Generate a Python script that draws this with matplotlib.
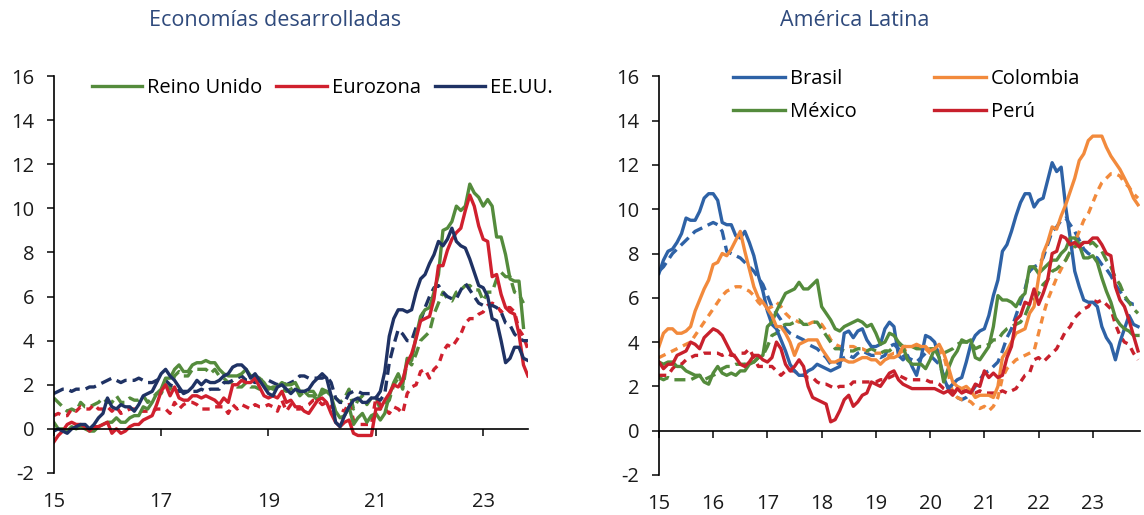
import matplotlib.pyplot as plt
import numpy as np

plt.rcParams['font.family'] = ['Open Sans', 'DejaVu Sans']
plt.rcParams['axes.unicode_minus'] = False

# monthly y/y inflation, Jan 2015 onwards (%)
uk = [0.3, 0.0, 0.0, -0.1, 0.1, 0.0, 0.1, 0.0, -0.1, -0.1, 0.1, 0.2,
      0.3, 0.3, 0.5, 0.3, 0.3, 0.5, 0.6, 0.6, 1.0, 0.9, 1.2, 1.6,
      1.8, 2.3, 2.3, 2.7, 2.9, 2.6, 2.6, 2.9, 3.0, 3.0, 3.1, 3.0,
      3.0, 2.7, 2.5, 2.4, 2.4, 2.4, 2.5, 2.7, 2.4, 2.4, 2.3, 2.1,
      1.8, 1.9, 1.9, 2.1, 2.0, 2.0, 2.1, 1.7, 1.7, 1.5, 1.5, 1.3,
      1.8, 1.7, 1.5, 0.8, 0.5, 0.6, 1.0, 0.2, 0.5, 0.7, 0.3, 0.6,
      0.7, 0.4, 0.7, 1.5, 2.1, 2.5, 2.0, 3.2, 3.1, 4.2, 5.1, 5.4,
      5.5, 6.2, 7.0, 9.0, 9.1, 9.4, 10.1, 9.9, 10.1, 11.1, 10.7, 10.5,
      10.1, 10.4, 10.1, 8.7, 8.7, 7.9, 6.8, 6.7, 6.7, 4.6]
uk_core = [1.4, 1.2, 1.0, 0.8, 0.9, 0.8, 1.2, 1.0, 1.0, 1.1, 1.2, 1.4,
           1.2, 1.2, 1.5, 1.2, 1.2, 1.4, 1.3, 1.3, 1.5, 1.2, 1.4, 1.6,
           1.6, 2.0, 1.8, 2.4, 2.6, 2.4, 2.4, 2.7, 2.7, 2.7, 2.7, 2.5,
           2.7, 2.4, 2.3, 2.1, 2.1, 1.9, 1.9, 2.1, 1.9, 1.9, 1.8, 1.9,
           1.9, 1.8, 1.8, 1.8, 1.7, 1.8, 1.9, 1.5, 1.7, 1.7, 1.7, 1.4,
           1.6, 1.7, 1.6, 1.4, 1.2, 1.4, 1.8, 0.9, 1.3, 1.5, 1.1, 1.4,
           1.4, 0.9, 1.1, 1.3, 2.0, 2.3, 1.8, 3.1, 2.9, 3.4, 4.0, 4.2,
           4.4, 5.2, 5.7, 6.2, 5.9, 5.8, 6.2, 6.3, 6.5, 6.5, 6.3, 6.3,
           5.8, 6.2, 6.2, 6.8, 7.1, 6.9, 6.9, 6.2, 6.1, 5.7]
ez = [-0.6, -0.3, -0.1, 0.2, 0.3, 0.2, 0.2, 0.1, -0.1, 0.1, 0.1, 0.2,
      0.3, -0.2, 0.0, -0.2, -0.1, 0.1, 0.2, 0.2, 0.4, 0.5, 0.6, 1.1,
      1.7, 2.0, 1.5, 1.9, 1.4, 1.3, 1.3, 1.5, 1.5, 1.4, 1.5, 1.4,
      1.3, 1.1, 1.4, 1.2, 2.0, 2.0, 2.2, 2.1, 2.1, 2.3, 1.9, 1.5,
      1.4, 1.5, 1.4, 1.7, 1.2, 1.3, 1.0, 1.0, 0.8, 0.7, 1.0, 1.3,
      1.4, 1.2, 0.7, 0.3, 0.1, 0.3, 0.4, -0.2, -0.3, -0.3, -0.3, -0.3,
      0.9, 0.9, 1.3, 1.6, 2.0, 1.9, 2.2, 3.0, 3.4, 4.1, 4.9, 5.0,
      5.1, 5.9, 7.4, 7.4, 8.1, 8.6, 8.9, 9.1, 9.9, 10.6, 10.1, 9.2,
      8.6, 8.5, 6.9, 7.0, 6.1, 5.5, 5.3, 5.2, 4.3, 2.9, 2.4]
ez_core = [0.6, 0.7, 0.6, 0.6, 0.9, 0.8, 1.0, 0.9, 0.9, 1.1, 0.9, 0.9,
           1.0, 0.8, 1.0, 0.7, 0.8, 0.9, 0.9, 0.8, 0.8, 0.8, 0.8, 0.9,
           0.9, 0.9, 0.7, 1.2, 0.9, 1.1, 1.2, 1.2, 1.1, 0.9, 0.9, 0.9,
           1.0, 1.0, 1.0, 0.7, 1.1, 0.9, 1.1, 1.0, 0.9, 1.1, 1.0, 1.0,
           1.1, 1.0, 0.8, 1.3, 0.8, 1.1, 0.9, 0.9, 1.0, 1.1, 1.3, 1.3,
           1.1, 1.2, 1.0, 0.9, 0.9, 0.8, 1.2, 0.4, 0.2, 0.2, 0.2, 0.2,
           1.4, 1.1, 0.9, 0.7, 1.0, 0.9, 0.7, 1.6, 1.9, 2.0, 2.6, 2.7,
           2.3, 2.7, 2.9, 3.5, 3.8, 3.7, 4.0, 4.3, 4.8, 5.0, 5.0, 5.2,
           5.3, 5.6, 5.7, 5.6, 5.3, 5.5, 5.5, 5.3, 4.5, 4.2, 3.6]
us = [-0.1, 0.0, -0.1, -0.2, 0.0, 0.1, 0.2, 0.2, 0.0, 0.2, 0.5, 0.7,
      1.4, 1.0, 0.9, 1.1, 1.0, 1.0, 0.8, 1.1, 1.5, 1.6, 1.7, 2.1,
      2.5, 2.7, 2.4, 2.2, 1.9, 1.6, 1.7, 1.9, 2.2, 2.0, 2.2, 2.1,
      2.1, 2.2, 2.4, 2.5, 2.8, 2.9, 2.9, 2.7, 2.3, 2.5, 2.2, 1.9,
      1.6, 1.5, 1.9, 2.0, 1.8, 1.6, 1.8, 1.7, 1.7, 1.8, 2.1, 2.3,
      2.5, 2.3, 1.5, 0.3, 0.1, 0.6, 1.0, 1.3, 1.4, 1.2, 1.2, 1.4,
      1.4, 1.7, 2.6, 4.2, 5.0, 5.4, 5.4, 5.3, 5.4, 6.2, 6.8, 7.0,
      7.5, 7.9, 8.5, 8.3, 8.6, 9.1, 8.5, 8.3, 8.2, 7.7, 7.1, 6.5,
      6.4, 6.0, 5.0, 4.9, 4.0, 3.0, 3.2, 3.7, 3.7, 3.2, 3.1]
us_core = [1.6, 1.7, 1.8, 1.8, 1.7, 1.8, 1.8, 1.8, 1.9, 1.9, 2.0, 2.1,
           2.2, 2.3, 2.2, 2.1, 2.2, 2.2, 2.2, 2.3, 2.2, 2.1, 2.1, 2.2,
           2.3, 2.2, 2.0, 1.9, 1.7, 1.7, 1.7, 1.7, 1.7, 1.8, 1.7, 1.8,
           1.8, 1.8, 2.1, 2.1, 2.2, 2.3, 2.4, 2.2, 2.2, 2.1, 2.2, 2.2,
           2.2, 2.1, 2.0, 2.1, 2.0, 2.1, 2.2, 2.4, 2.4, 2.3, 2.3, 2.3,
           2.3, 2.4, 2.1, 1.4, 1.2, 1.2, 1.6, 1.7, 1.7, 1.6, 1.6, 1.6,
           1.4, 1.3, 1.6, 3.0, 3.8, 4.5, 4.3, 4.0, 4.0, 4.6, 4.9, 5.5,
           6.0, 6.4, 6.5, 6.2, 6.0, 5.9, 5.9, 6.3, 6.6, 6.3, 6.0, 5.7,
           5.6, 5.5, 5.6, 5.5, 5.3, 4.8, 4.7, 4.3, 4.1, 4.0, 4.0]

brasil = [7.1, 7.7, 8.1, 8.2, 8.5, 8.9, 9.6, 9.5, 9.5, 9.9, 10.5, 10.7,
          10.7, 10.4, 9.4, 9.3, 9.3, 8.8, 8.7, 9.0, 8.5, 7.9, 7.0, 6.3,
          5.4, 4.8, 4.6, 4.1, 3.6, 3.0, 2.7, 2.5, 2.5, 2.7, 2.8, 3.0,
          2.9, 2.8, 2.7, 2.8, 2.9, 4.4, 4.5, 4.2, 4.5, 4.6, 4.1, 3.8,
          3.8, 3.9, 4.6, 4.9, 4.7, 3.4, 3.2, 3.4, 2.9, 2.5, 3.3, 4.3,
          4.2, 4.0, 3.3, 2.4, 1.9, 2.1, 2.3, 2.4, 3.1, 3.9, 4.3, 4.5,
          4.6, 5.2, 6.1, 6.8, 8.1, 8.4, 9.0, 9.7, 10.3, 10.7, 10.7, 10.1,
          10.4, 10.5, 11.3, 12.1, 11.7, 11.9, 10.1, 8.7, 7.2, 6.5, 5.9, 5.8,
          5.8, 5.6, 4.7, 4.2, 3.9, 3.2, 4.0, 4.6, 5.2, 4.8, 4.7]
brasil_core = [7.2, 7.4, 7.7, 8.0, 8.2, 8.4, 8.6, 8.8, 9.0, 9.1, 9.2, 9.3,
               9.4, 9.3, 9.0, 8.1, 8.0, 7.9, 7.8, 7.6, 7.4, 7.2, 6.9, 6.6,
               6.1, 5.6, 5.3, 5.0, 4.6, 4.4, 4.3, 4.2, 4.1, 3.9, 3.8, 3.7,
               3.5, 3.3, 3.0, 3.0, 3.1, 3.3, 3.4, 3.3, 3.5, 3.6, 3.5, 3.4,
               3.4, 3.3, 3.4, 3.8, 3.9, 3.7, 3.4, 3.3, 3.2, 3.1, 3.3, 3.5,
               3.4, 3.2, 3.0, 2.5, 1.9, 1.6, 1.5, 1.4, 1.5, 1.7, 2.0, 2.3,
               2.6, 2.7, 2.9, 3.1, 3.6, 4.2, 4.6, 5.2, 5.8, 6.4, 7.2, 7.4,
               7.5, 7.8, 8.4, 9.0, 9.2, 9.5, 9.6, 9.3, 9.0, 8.6, 8.2, 8.0,
               7.9, 7.8, 7.5, 7.3, 7.0, 6.6, 6.3, 6.0, 5.8, 5.7, 5.7]
colombia = [3.8, 4.4, 4.6, 4.6, 4.4, 4.4, 4.5, 4.7, 5.4, 5.9, 6.4, 6.8,
            7.5, 7.6, 8.0, 7.9, 8.2, 8.6, 9.0, 8.1, 7.3, 6.5, 6.0, 5.8,
            5.5, 5.2, 4.7, 4.7, 4.4, 4.0, 3.4, 3.9, 4.0, 4.1, 4.1, 4.1,
            3.7, 3.4, 3.1, 3.1, 3.2, 3.2, 3.1, 3.1, 3.2, 3.3, 3.3, 3.2,
            3.2, 3.0, 3.2, 3.3, 3.3, 3.4, 3.8, 3.8, 3.8, 3.9, 3.8, 3.8,
            3.6, 3.7, 3.9, 3.5, 2.9, 2.2, 2.0, 1.9, 2.0, 1.8, 1.5, 1.6,
            1.6, 1.6, 1.5, 2.0, 3.3, 3.6, 4.0, 4.4, 4.5, 4.6, 5.3, 5.6,
            6.9, 8.0, 8.5, 9.2, 9.1, 9.7, 10.2, 10.8, 11.4, 12.2, 12.5, 13.1,
            13.3, 13.3, 13.3, 12.8, 12.4, 12.1, 11.8, 11.4, 11.0, 10.5, 10.2]
colombia_core = [3.3, 3.4, 3.5, 3.6, 3.7, 3.8, 3.9, 4.0, 4.3, 4.6, 4.9, 5.2,
                 5.5, 5.8, 6.1, 6.3, 6.4, 6.5, 6.5, 6.4, 6.3, 6.1, 5.8, 5.6,
                 5.5, 5.6, 5.8, 5.6, 5.3, 5.1, 5.0, 4.9, 4.9, 4.8, 4.9, 4.9,
                 4.8, 4.5, 4.1, 3.9, 3.8, 3.8, 3.8, 3.8, 3.7, 3.7, 3.6, 3.5,
                 3.5, 3.5, 3.4, 3.4, 3.5, 3.5, 3.6, 3.7, 3.8, 3.8, 3.8, 3.7,
                 3.5, 3.5, 3.6, 3.4, 2.6, 1.7, 1.5, 1.4, 1.4, 1.3, 1.1, 1.0,
                 1.1, 0.9, 1.1, 1.5, 2.4, 2.8, 3.0, 3.2, 3.3, 3.4, 3.5, 3.6,
                 4.4, 5.2, 5.9, 6.4, 6.9, 7.3, 7.7, 8.1, 8.5, 9.0, 9.5, 9.8,
                 10.3, 10.8, 11.2, 11.4, 11.6, 11.6, 11.5, 11.2, 11.0, 10.7, 10.5]
mexico = [3.1, 3.0, 3.1, 3.1, 2.9, 2.9, 2.7, 2.6, 2.5, 2.5, 2.2, 2.1,
          2.6, 2.9, 2.6, 2.5, 2.6, 2.5, 2.7, 2.7, 3.0, 3.1, 3.3, 3.4,
          4.7, 4.9, 5.4, 5.8, 6.2, 6.3, 6.4, 6.7, 6.4, 6.4, 6.6, 6.8,
          5.6, 5.3, 5.0, 4.6, 4.5, 4.7, 4.8, 4.9, 5.0, 4.9, 4.7, 4.8,
          4.4, 3.9, 4.0, 4.4, 4.3, 4.0, 3.8, 3.2, 3.0, 3.0, 3.0, 2.8,
          3.2, 3.7, 3.3, 2.2, 2.8, 3.3, 3.6, 4.1, 4.0, 4.1, 3.3, 3.2,
          3.5, 3.8, 4.7, 6.1, 5.9, 5.9, 5.8, 5.6, 6.0, 6.2, 7.4, 7.4,
          7.1, 7.3, 7.5, 7.7, 7.7, 8.0, 8.2, 8.7, 8.7, 8.4, 7.8, 7.8,
          7.9, 7.6, 6.9, 6.3, 5.8, 5.1, 4.8, 4.6, 4.5, 4.3, 4.3]
mexico_core = [2.4, 2.3, 2.4, 2.3, 2.3, 2.3, 2.3, 2.3, 2.4, 2.5, 2.3, 2.4,
               2.5, 2.6, 2.8, 2.9, 2.9, 3.0, 3.0, 3.0, 3.1, 3.1, 3.3, 3.4,
               3.8, 4.3, 4.4, 4.7, 4.8, 4.8, 4.9, 5.0, 4.8, 4.8, 4.9, 4.9,
               4.6, 4.3, 4.0, 3.7, 3.7, 3.6, 3.6, 3.6, 3.7, 3.7, 3.6, 3.7,
               3.6, 3.5, 3.6, 3.6, 3.8, 3.9, 3.8, 3.8, 3.8, 3.7, 3.7, 3.6,
               3.7, 3.7, 3.6, 3.5, 3.6, 3.7, 3.9, 4.0, 4.0, 4.0, 3.7, 3.8,
               3.8, 3.9, 4.1, 4.1, 4.4, 4.6, 4.7, 4.8, 4.9, 5.2, 5.7, 5.9,
               6.2, 6.6, 6.8, 7.2, 7.3, 7.5, 7.7, 8.1, 8.3, 8.4, 8.5, 8.4,
               8.5, 8.3, 8.1, 7.7, 7.4, 6.9, 6.6, 6.1, 5.8, 5.5, 5.3]
peru = [3.1, 2.8, 3.0, 3.0, 3.4, 3.5, 3.6, 4.0, 3.9, 3.7, 4.2, 4.4,
        4.6, 4.5, 4.3, 3.9, 3.5, 3.3, 3.0, 2.9, 3.1, 3.4, 3.4, 3.2,
        3.1, 3.3, 4.0, 3.7, 3.0, 2.7, 2.9, 3.2, 2.9, 2.0, 1.5, 1.4,
        1.3, 1.2, 0.4, 0.5, 0.9, 1.4, 1.6, 1.1, 1.3, 1.6, 1.7, 2.2,
        2.1, 2.0, 2.3, 2.6, 2.7, 2.3, 2.1, 2.0, 1.9, 1.9, 1.9, 1.9,
        1.9, 1.9, 1.8, 1.7, 1.8, 1.6, 1.9, 1.7, 1.8, 1.7, 2.1, 2.0,
        2.7, 2.4, 2.6, 2.4, 2.5, 3.3, 3.8, 5.0, 5.2, 5.8, 5.7, 6.4,
        5.7, 6.2, 6.8, 8.0, 8.1, 8.8, 8.7, 8.4, 8.5, 8.3, 8.5, 8.5,
        8.7, 8.7, 8.4, 8.0, 7.9, 6.5, 5.9, 5.6, 5.0, 4.3, 3.6]
peru_core = [2.5, 2.5, 2.5, 2.8, 3.0, 3.0, 3.2, 3.3, 3.4, 3.4, 3.5, 3.5,
             3.5, 3.5, 3.4, 3.5, 3.4, 3.4, 3.5, 3.5, 3.7, 3.3, 2.9, 2.9,
             2.9, 2.9, 2.7, 2.5, 2.7, 2.7, 2.7, 2.5, 2.5, 2.4, 2.4, 2.2,
             2.1, 2.1, 2.0, 1.9, 2.0, 2.0, 2.0, 2.2, 2.2, 2.2, 2.2, 2.2,
             2.2, 2.3, 2.3, 2.4, 2.5, 2.5, 2.4, 2.3, 2.3, 2.3, 2.3, 2.3,
             2.2, 2.2, 2.1, 1.9, 1.8, 1.8, 1.7, 1.8, 1.8, 1.7, 1.7, 1.8,
             1.7, 1.7, 1.7, 1.7, 1.8, 1.7, 1.8, 1.9, 2.2, 2.5, 2.6, 3.2,
             3.3, 3.1, 3.3, 3.5, 3.7, 4.1, 4.5, 4.7, 5.1, 5.3, 5.5, 5.6,
             5.9, 5.8, 5.9, 5.7, 5.5, 4.8, 4.3, 4.0, 3.9, 3.5, 3.2]

GREEN = '#548B3C'
RED = '#D0202E'
NAVY = '#1F3264'
BLUE = '#2E62A6'
ORANGE = '#F28A3C'
PRED = '#C8202C'

def xs(vals):
    return 15 + np.arange(len(vals)) / 12

def style(ax, xticks, xmax):
    ax.set_xlim(15, xmax)
    ax.set_ylim(-2, 16)
    ax.set_yticks(np.arange(-2, 17, 2))
    ax.set_xticks(xticks)
    ax.set_xticklabels([str(t) for t in xticks])
    ax.spines['top'].set_visible(False)
    ax.spines['right'].set_visible(False)
    ax.spines['bottom'].set_position(('data', 0))
    for s in ['left', 'bottom']:
        ax.spines[s].set_linewidth(1.2)
    ax.tick_params(axis='y', direction='out', length=5, width=1.2, pad=9, labelsize=14.5, colors='#1a1a1a')
    ax.tick_params(axis='x', direction='out', length=5, width=1.2, pad=40.5, labelsize=14.5, colors='#1a1a1a')

fig = plt.figure(figsize=(11.44, 5.15), dpi=100)
ax1 = fig.add_axes([0.047, 0.0816, 0.4148, 0.7708])
ax2 = fig.add_axes([0.576, 0.0777, 0.4205, 0.7741])

lw = 2.4
ax1.plot(xs(uk_core), uk_core, color=GREEN, lw=lw, ls=(0, (3.3, 1.8)))
ax1.plot(xs(ez_core), ez_core, color=RED, lw=lw, ls=(0, (2.2, 1.8)))
ax1.plot(xs(us_core), us_core, color=NAVY, lw=lw, ls=(0, (3.3, 1.8)))
ax1.plot(xs(uk), uk, color=GREEN, lw=lw, label='Reino Unido')
ax1.plot(xs(ez), ez, color=RED, lw=lw, label='Eurozona')
ax1.plot(xs(us), us, color=NAVY, lw=lw, label='EE.UU.')
style(ax1, [15, 17, 19, 21, 23], 23.84)
ax1.legend(ncol=3, loc='center left', bbox_to_anchor=(0.08, 0.97), frameon=False,
           fontsize=14.5, handlelength=2.5, handletextpad=0.25, columnspacing=0.7,
           borderpad=0, borderaxespad=0)

ax2.plot(xs(brasil_core), brasil_core, color=BLUE, lw=lw, ls=(0, (3.3, 1.8)))
ax2.plot(xs(colombia_core), colombia_core, color=ORANGE, lw=lw, ls=(0, (2.2, 1.8)))
ax2.plot(xs(mexico_core), mexico_core, color=GREEN, lw=lw, ls=(0, (3.3, 1.8)))
ax2.plot(xs(peru_core), peru_core, color=PRED, lw=lw, ls=(0, (2.2, 1.8)))
ax2.plot(xs(brasil), brasil, color=BLUE, lw=lw, label='Brasil')
ax2.plot(xs(mexico), mexico, color=GREEN, lw=lw, label='México')
ax2.plot(xs(colombia), colombia, color=ORANGE, lw=lw, label='Colombia')
ax2.plot(xs(peru), peru, color=PRED, lw=lw, label='Perú')
style(ax2, list(range(15, 24)), 23.87)
ax2.legend(ncol=2, loc='center left', bbox_to_anchor=(0.154, 0.952), frameon=False,
           fontsize=14.5, handlelength=2.6, handletextpad=0.25, columnspacing=3.8,
           labelspacing=0.65, borderpad=0, borderaxespad=0)

fig.text(275 / 1144, 1 - 20 / 515, 'Economías desarrolladas', ha='center', va='center',
         fontsize=15.5, color='#2F4A7C')
fig.text(855 / 1144, 1 - 20 / 515, 'América Latina', ha='center', va='center',
         fontsize=15.5, color='#2F4A7C')

fig.savefig('out.png', dpi=100)
